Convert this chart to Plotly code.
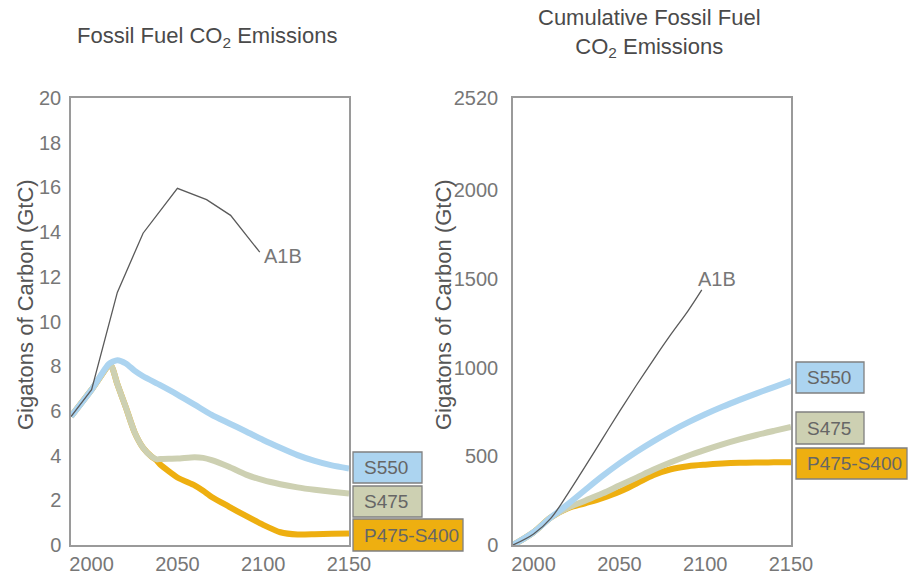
import plotly.graph_objects as go

# ---------------- data ----------------
# Annual fossil fuel CO2 emissions (GtC)
a1b_years = [1988, 2000, 2015, 2030, 2050, 2067, 2081, 2098]
a1b_emis = [5.75, 6.95, 11.3, 13.95, 15.96, 15.45, 14.75, 13.1]

s550_years = [1988, 2000, 2010, 2015, 2020, 2025, 2030, 2040, 2050, 2060, 2070,
              2080, 2090, 2100, 2110, 2120, 2130, 2140, 2150]
s550_emis = [5.75, 6.95, 8.1, 8.27, 8.12, 7.8, 7.55, 7.15, 6.73, 6.28, 5.82,
             5.45, 5.08, 4.7, 4.35, 4.02, 3.76, 3.56, 3.42]

s475_years = [1988, 2000, 2011, 2015, 2020, 2025, 2030, 2035, 2038, 2040, 2050,
              2060, 2065, 2070, 2080, 2090, 2100, 2110, 2120, 2130, 2140, 2150]
s475_emis = [5.75, 6.95, 8.05, 7.2, 6.15, 5.05, 4.35, 3.95, 3.83, 3.85, 3.87,
             3.93, 3.9, 3.8, 3.5, 3.15, 2.9, 2.72, 2.58, 2.47, 2.38, 2.3]

p475_years = [1988, 2000, 2011, 2015, 2020, 2025, 2030, 2035, 2038, 2040, 2050,
              2060, 2065, 2070, 2080, 2090, 2100, 2110, 2120, 2130, 2140, 2150]
p475_emis = [5.75, 6.95, 8.05, 7.2, 6.15, 5.05, 4.35, 3.95, 3.78, 3.6, 3.02,
             2.67, 2.43, 2.15, 1.72, 1.3, 0.9, 0.57, 0.47, 0.48, 0.5, 0.52]

# Cumulative fossil fuel CO2 emissions (GtC)
a1b_cum_years = [1988, 2000, 2010, 2020, 2030, 2040, 2050, 2060, 2070, 2080, 2090, 2098]
a1b_cum = [0, 62, 150, 290, 442, 597, 752, 902, 1047, 1187, 1320, 1438]

cum_years = [1988, 2000, 2010, 2020, 2030, 2040, 2050, 2060, 2070, 2080, 2090,
             2100, 2110, 2120, 2130, 2140, 2150]
s550_cum = [0, 72, 155, 230, 310, 388, 460, 526, 586, 641, 691, 737, 779, 818, 855, 890, 925]
s475_cum = [0, 72, 155, 210, 250, 290, 335, 380, 425, 466, 503, 536, 567, 595, 620, 643, 665]
p475_cum = [0, 72, 155, 207, 235, 264, 300, 347, 395, 427, 444, 453, 459, 463, 465, 466, 467]

x_ticks = [2000, 2050, 2100, 2150]
y1_ticks = [0, 2, 4, 6, 8, 10, 12, 14, 16, 18, 20]
y2_ticks = [0, 500, 1000, 1500, 2000, 2520]

scenario_names = ["S550", "S475", "P475-S400"]
scenario_colors = ["#acd4f0", "#cdd0b2", "#eeaf10"]

# ---------------- figure ----------------
W, H = 912, 576
FONT = "Liberation Sans, Arial, sans-serif"
TICK_COLOR = "#777777"
A1B_COLOR = "#5a5a5a"

fig = go.Figure()

emis_series = [(s550_years, s550_emis), (s475_years, s475_emis), (p475_years, p475_emis)]
cum_series = [s550_cum, s475_cum, p475_cum]

# left panel (draw P475 first so S475 sits on top where they overlap)
for i in [2, 1, 0]:
    xs, ys = emis_series[i]
    fig.add_trace(go.Scatter(x=xs, y=ys, mode="lines", name=scenario_names[i],
                             line=dict(color=scenario_colors[i], width=6, shape="spline", smoothing=0.6),
                             xaxis="x", yaxis="y", showlegend=False))
fig.add_trace(go.Scatter(x=a1b_years, y=a1b_emis, mode="lines", name="A1B",
                         line=dict(color=A1B_COLOR, width=1.3),
                         xaxis="x", yaxis="y", showlegend=False))

# right panel
for i in [2, 1, 0]:
    fig.add_trace(go.Scatter(x=cum_years, y=cum_series[i], mode="lines", name=scenario_names[i],
                             line=dict(color=scenario_colors[i], width=6, shape="spline", smoothing=1.0),
                             xaxis="x2", yaxis="y2", showlegend=False))
fig.add_trace(go.Scatter(x=a1b_cum_years, y=a1b_cum, mode="lines", name="A1B",
                         line=dict(color=A1B_COLOR, width=1.3, shape="spline", smoothing=1.0),
                         xaxis="x2", yaxis="y2", showlegend=False))


def px(x):
    return x / W


def py(y):
    return 1 - y / H


axis_common = dict(showline=True, mirror=True, linecolor="#9a9a9a", linewidth=1.5,
                   showgrid=False, zeroline=False, ticks="",
                   tickfont=dict(family=FONT, size=20, color=TICK_COLOR))

fig.update_layout(
    width=W, height=H,
    margin=dict(l=0, r=0, t=0, b=0, autoexpand=False),
    paper_bgcolor="white", plot_bgcolor="white",
    font=dict(family=FONT, color="#555555"),
    xaxis=dict(domain=[px(71), px(349)], range=[1988, 2150], tickvals=x_ticks,
               anchor="y", **axis_common),
    yaxis=dict(domain=[py(545), py(98)], range=[0, 20], tickvals=y1_ticks,
               anchor="x", ticklabelstandoff=4, **axis_common),
    xaxis2=dict(domain=[px(513), px(791)], range=[1988, 2150], tickvals=x_ticks,
                anchor="y2", **axis_common),
    yaxis2=dict(domain=[py(545), py(98)], range=[0, 2520], tickvals=y2_ticks,
                anchor="x2", ticklabelstandoff=9, **axis_common),
)

annotations = []
shapes = []

# titles
annotations.append(dict(text="Fossil Fuel CO<sub>2</sub> Emissions", x=px(207), y=py(37),
                        xref="paper", yref="paper", xanchor="center", yanchor="middle",
                        showarrow=False, font=dict(family=FONT, size=22, color="#4a4a4a")))
annotations.append(dict(text="Cumulative Fossil Fuel<br>CO<sub>2</sub> Emissions", x=px(649), y=py(33),
                        xref="paper", yref="paper", xanchor="center", yanchor="middle",
                        showarrow=False, font=dict(family=FONT, size=22, color="#4a4a4a")))
# y axis titles
for xc in [25, 443]:
    annotations.append(dict(text="Gigatons of Carbon (GtC)", x=px(xc), y=py(305),
                            xref="paper", yref="paper", xanchor="center", yanchor="middle",
                            showarrow=False, textangle=-90,
                            font=dict(family=FONT, size=22, color="#555555")))
# A1B labels
annotations.append(dict(text="A1B", x=px(262), y=py(256), xref="paper", yref="paper",
                        xanchor="left", yanchor="middle", showarrow=False,
                        font=dict(family=FONT, size=20, color=TICK_COLOR)))
annotations.append(dict(text="A1B", x=px(696), y=py(279), xref="paper", yref="paper",
                        xanchor="left", yanchor="middle", showarrow=False,
                        font=dict(family=FONT, size=20, color=TICK_COLOR)))

# scenario label boxes
left_boxes = [(353, 422, 452, 483), (353, 422, 486, 517), (353, 463, 519, 551)]
right_boxes = [(796, 864, 362, 393), (796, 864, 412, 444), (796, 907, 448, 479)]
for boxes in [left_boxes, right_boxes]:
    for i, (x0, x1, y0, y1) in enumerate(boxes):
        shapes.append(dict(type="rect", xref="paper", yref="paper",
                           x0=px(x0), x1=px(x1), y0=py(y1), y1=py(y0),
                           fillcolor=scenario_colors[i],
                           line=dict(color="#808080", width=1.3)))
        annotations.append(dict(text=scenario_names[i], x=px(x0 + 9), y=py((y0 + y1) / 2),
                                xref="paper", yref="paper", xanchor="left", yanchor="middle",
                                showarrow=False,
                                font=dict(family=FONT, size=19, color="#666666")))

fig.update_layout(annotations=annotations, shapes=shapes)

fig.write_html("out.html", config={"displayModeBar": False},
               post_script="document.body.style.margin='0';document.body.style.overflow='hidden';")
